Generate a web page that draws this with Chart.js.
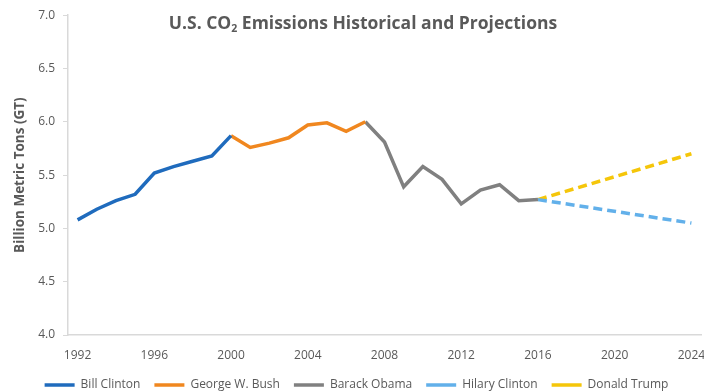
<!DOCTYPE html>
<html>
<head>
<meta charset="utf-8">
<script src="https://cdn.jsdelivr.net/npm/chart.js@4"></script>
<style>
  html, body { margin: 0; padding: 0; background: #fff; }
  #wrap { width: 704px; height: 392px; }
</style>
</head>
<body>
<div id="wrap"><canvas id="co2"></canvas></div>
<script>
// years on the x axis
const years = [];
for (let y = 1992; y <= 2024; y++) years.push(String(y));

// emissions, billion metric tons
const clintonYears = ['1992','1993','1994','1995','1996','1997','1998','1999','2000'];
const clinton      = [5.08, 5.18, 5.26, 5.32, 5.52, 5.58, 5.63, 5.68, 5.87];
const bushYears    = ['2000','2001','2002','2003','2004','2005','2006','2007'];
const bush         = [5.87, 5.76, 5.80, 5.85, 5.97, 5.99, 5.91, 6.00];
const obamaYears   = ['2007','2008','2009','2010','2011','2012','2013','2014','2015','2016'];
const obama        = [6.00, 5.81, 5.39, 5.58, 5.46, 5.23, 5.36, 5.41, 5.26, 5.27];
const projYears    = ['2016', '2024'];
const hilary       = [5.27, 5.05];
const trump        = [5.27, 5.70];

const yTicks = [4.0, 4.5, 5.0, 5.5, 6.0, 6.5, 7.0];

const GREY = '#595959';
const pts = (xs, vs) => xs.map((x, i) => ({ x, y: vs[i] }));

function series(label, xs, vs, color, dash) {
  return {
    label, data: pts(xs, vs),
    borderColor: color, backgroundColor: color,
    borderWidth: 3.5, borderDash: dash || [],
    pointRadius: 0, pointStyle: 'line',
    tension: 0, spanGaps: true,
  };
}

const titlePlugin = {
  id: 'co2title',
  afterDraw(chart) {
    const ctx = chart.ctx;
    ctx.save();
    ctx.fillStyle = GREY;
    ctx.textBaseline = 'alphabetic';
    const big = 'bold 17.5px "Open Sans"';
    const small = 'bold 10.5px "Open Sans"';
    const a = 'U.S. CO', b = '2', c = ' Emissions Historical and Projections';
    ctx.font = big;
    const wa = ctx.measureText(a).width, wc = ctx.measureText(c).width;
    ctx.font = small;
    const wb = ctx.measureText(b).width;
    let x = 363 - (wa + wb + wc) / 2;
    const y = 29;
    ctx.font = big;   ctx.fillText(a, x, y); x += wa;
    ctx.font = small; ctx.fillText(b, x, y + 3); x += wb;
    ctx.font = big;   ctx.fillText(c, x, y);
    ctx.restore();
  }
};

new Chart(document.getElementById('co2'), {
  type: 'line',
  data: {
    labels: years,
    datasets: [
      series('Bill Clinton', clintonYears, clinton, '#1f6bbd'),
      series('George W. Bush', bushYears, bush, '#f0871f'),
      series('Barack Obama', obamaYears, obama, '#808080'),
      series('Hilary Clinton', projYears, hilary, '#62b0ea', [9, 5]),
      series('Donald Trump', projYears, trump, '#f5c60a', [9, 5]),
    ],
  },
  options: {
    responsive: true,
    maintainAspectRatio: false,
    animation: false,
    layout: { padding: { left: 12, top: 14, right: 3, bottom: -9 } },
    plugins: {
      title: { display: false },
      tooltip: { enabled: false },
      legend: {
        position: 'bottom',
        labels: {
          usePointStyle: true,
          pointStyleWidth: 30,
          color: GREY,
          padding: 14,
          font: { family: 'Open Sans', size: 12 },
        },
      },
    },
    scales: {
      x: {
        type: 'category',
        offset: true,
        grid: { display: false },
        border: { color: '#d9d9d9', width: 1.5 },
        ticks: {
          autoSkip: false, maxRotation: 0, padding: 5,
          color: GREY, font: { family: 'Open Sans', size: 12 },
          callback: (v, i) => (Number(years[i]) % 4 === 0 ? years[i] : ''),
        },
        afterFit: s => { s.height = 30; s.paddingRight = 0; s.paddingLeft = 0; },
      },
      y: {
        min: 4, max: 7,
        afterBuildTicks: s => { s.ticks = yTicks.map(v => ({ value: v })); },
        grid: { drawOnChartArea: false, tickLength: 5, color: '#d9d9d9' },
        border: { color: '#d9d9d9', width: 1.5 },
        ticks: {
          padding: 8, color: GREY, font: { family: 'Open Sans', size: 12 },
          callback: v => v.toFixed(1),
        },
        title: {
          display: true, text: 'Billion Metric Tons (GT)', color: GREY,
          font: { family: 'Open Sans', size: 13.5, weight: 'bold' },
          padding: { top: 0, bottom: 0 },
        },
        afterFit: s => { s.width = 56; },
      },
    },
  },
  plugins: [titlePlugin],
});
</script>
</body>
</html>
